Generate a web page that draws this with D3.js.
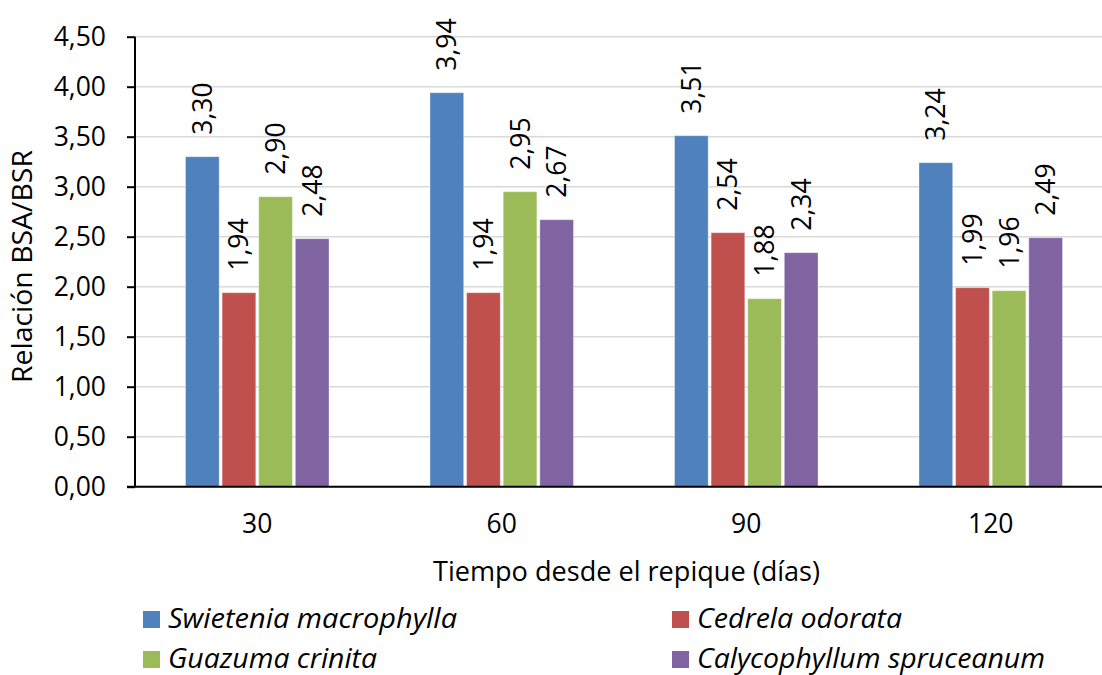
<!DOCTYPE html>
<html><head><meta charset="utf-8">
<script src="https://cdn.jsdelivr.net/npm/d3@7"></script>
<style>body{margin:0;background:#fff}svg{display:block}text{font-family:"Open Sans",sans-serif;fill:#000}</style>
</head><body><svg id="c" width="1102" height="675"></svg>
<script>
const categories = ["30","60","90","120"];
const seriesNames = ["Swietenia macrophylla","Cedrela odorata","Guazuma crinita","Calycophyllum spruceanum"];
const swietenia = [3.30,3.94,3.51,3.24];
const cedrela = [1.94,1.94,2.54,1.99];
const guazuma = [2.90,2.95,1.88,1.96];
const calyco = [2.48,2.67,2.34,2.49];
const yTicks = [0,0.5,1,1.5,2,2.5,3,3.5,4,4.5];
const colors = ["#4f81bd","#c0504d","#9bbb59","#8064a2"];
const values = [swietenia,cedrela,guazuma,calyco];

const svg = d3.select("#c");
const pL=135, pR=1113, pT=36.7, pB=486.7;
const FS = "26.5px";
const x0 = d3.scaleBand().domain(categories).range([pL,pR]).paddingInner(0).paddingOuter(0);
const groupW = 143.5;
const x1 = d3.scaleBand().domain(seriesNames).range([0,groupW]).paddingInner(0.08).paddingOuter(0);
const y = d3.scaleLinear().domain([0,4.5]).range([pB,pT]);
const fmt = v => d3.format(".2f")(v).replace(".",",");

// gridlines
svg.append("g").selectAll("line").data(yTicks.filter(d=>d>0)).join("line")
  .attr("x1",pL).attr("x2",1102).attr("y1",d=>y(d)).attr("y2",d=>y(d))
  .attr("stroke","#d9d9d9").attr("stroke-width",1.5);

// bars
const groups = svg.append("g").selectAll("g").data(categories).join("g")
  .attr("transform",c=>`translate(${x0(c)+(x0.bandwidth()-groupW)/2},0)`);
groups.each(function(c,ci){
  const g=d3.select(this);
  seriesNames.forEach((s,si)=>{
    const v=values[si][ci];
    g.append("rect").attr("x",x1(s)).attr("width",x1.bandwidth())
      .attr("y",y(v)).attr("height",y(0)-y(v)).attr("fill",colors[si])
      .attr("stroke","#ffffff").attr("stroke-opacity",0.35).attr("stroke-width",1);
    const cx=x1(s)+x1.bandwidth()/2, ty=y(v)-22;
    g.append("text").attr("transform",`translate(${cx},${ty}) rotate(-90)`)
      .attr("text-anchor","start").attr("dy","0.36em")
      .style("font-size",FS).text(fmt(v));
  });
});

// y axis
const ya = svg.append("g").attr("transform",`translate(${pL},0)`)
  .call(d3.axisLeft(y).tickValues(yTicks).tickSize(8).tickPadding(21).tickFormat(fmt));
ya.select(".domain").attr("stroke","#000").attr("stroke-width",2).attr("d",`M0,${pT}V${pB}`);
ya.selectAll(".tick line").attr("stroke","#000").attr("stroke-width",2);
ya.selectAll("text").style("font-size",FS).style("font-family","'Open Sans',sans-serif").attr("fill","#000");

// x axis
const xa = svg.append("g").attr("transform",`translate(0,${pB})`)
  .call(d3.axisBottom(x0).tickSize(0).tickPadding(27));
xa.select(".domain").attr("stroke","#000").attr("stroke-width",2).attr("d",`M127,0H1102`);
xa.selectAll("text").style("font-size",FS).style("font-family","'Open Sans',sans-serif").attr("fill","#000");

// axis titles
svg.append("text").attr("x",433).attr("y",581).attr("text-anchor","start")
  .attr("textLength",387).attr("lengthAdjust","spacingAndGlyphs")
  .style("font-size",FS).text("Tiempo desde el repique (días)");
svg.append("text").attr("transform",`translate(32,383) rotate(-90)`)
  .attr("text-anchor","start").attr("textLength",233).attr("lengthAdjust","spacingAndGlyphs")
  .style("font-size",FS).text("Relación BSA/BSR");

// legend
const legPos = [[143,611],[672,611],[143,651],[672,651]];
const legLen = [289,205,209,348];
seriesNames.forEach((s,i)=>{
  const [lx,ly]=legPos[i];
  svg.append("rect").attr("x",lx).attr("y",ly).attr("width",17).attr("height",17).attr("fill",colors[i]);
  svg.append("text").attr("x",lx+25).attr("y",ly+17).style("font-size",FS)
    .attr("textLength",legLen[i]).attr("lengthAdjust","spacingAndGlyphs")
    .style("font-style","italic").text(s);
});
</script></body></html>
